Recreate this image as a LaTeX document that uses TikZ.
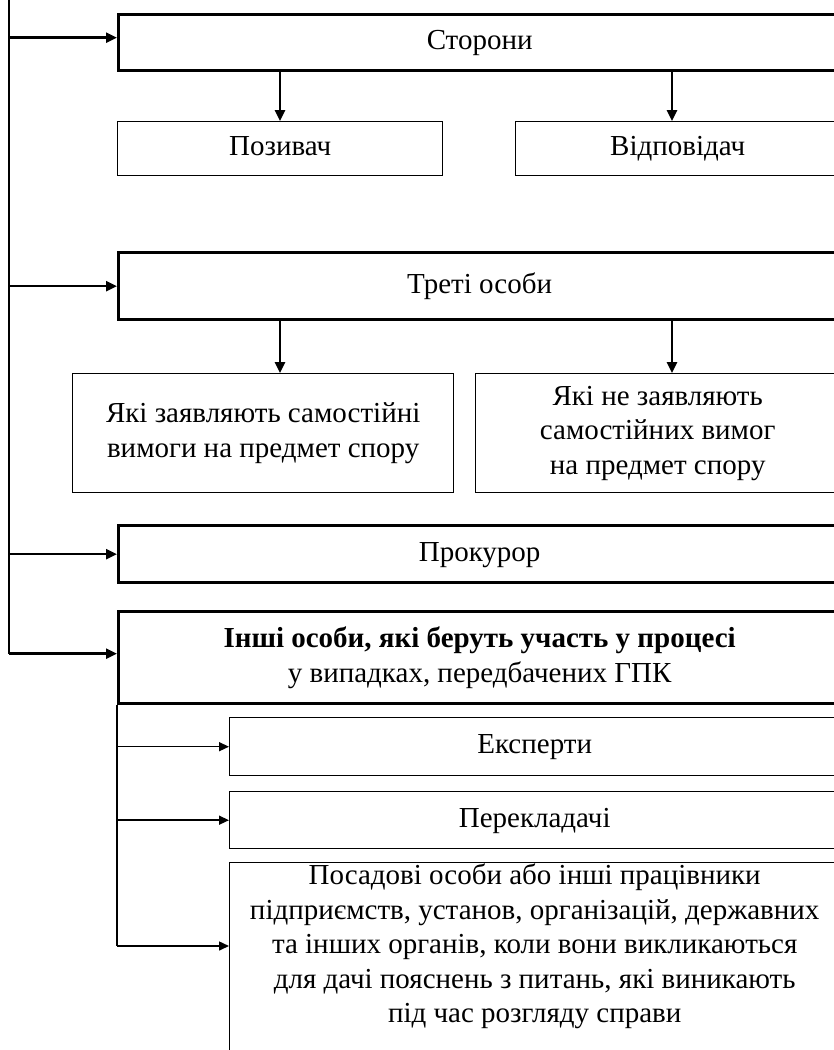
\documentclass[tikz,border=0pt]{standalone}
\usepackage{fontspec}
\setmainfont{Liberation Serif}
\usetikzlibrary{arrows.meta,positioning}

\begin{document}
\begin{tikzpicture}[
    x=1pt, y=-1pt,
    every node/.style={font=\fontsize{29}{34.5}\selectfont},
    mainbox/.style={draw=black, line width=3.3pt, anchor=north west, align=center, inner sep=0pt},
    subbox/.style={draw=black, line width=1.4pt, anchor=north west, align=center, inner sep=0pt},
    oneline/.style={text height=21pt, text depth=7pt},
    bus/.style={line width=2.5pt, black},
    arrow/.style={-{Triangle[length=11pt, width=10pt]}, line width=2.5pt, black},
    subarrow/.style={-{Triangle[length=10pt, width=9pt]}, line width=1.5pt, black},
    subline/.style={line width=1.3pt, black}
]
\useasboundingbox (0,0) rectangle (834,1050);
\clip (0,0) rectangle (834,1050);

% === Level 1: main participants ===
\node[mainbox, oneline, minimum width=722pt, minimum height=56pt] (storony) at (117,13) {Сторони};
\node[mainbox, oneline, minimum width=722pt, minimum height=67pt] (treti) at (117,251) {Треті особи};
\node[mainbox, oneline, minimum width=722pt, minimum height=57pt] (prokuror) at (117,524) {Прокурор};
\node[mainbox, minimum width=722pt, minimum height=92pt] (inshi) at (117,610)
    {\textbf{Інші особи, які беруть участь у процесі}\\у випадках, передбачених ГПК};

% === Level 2: parties ===
\node[subbox, oneline, minimum width=325pt, minimum height=54pt] (pozyvach) at (117,121) {Позивач};
\node[subbox, oneline, minimum width=324pt, minimum height=54pt] (vidpovidach) at (515,121) {Відповідач};

% === Level 2: third persons ===
\node[subbox, minimum width=381pt, minimum height=119pt] (zayavl) at (72,373)
    {Які заявляють самостійні\\вимоги на предмет спору};
\node[subbox, minimum width=364pt, minimum height=119pt] (nezayavl) at (475,373)
    {Які не заявляють\\самостійних вимог\\на предмет спору};

% === Level 2: other persons ===
\node[subbox, oneline, minimum width=610pt, minimum height=58pt] (eksperty) at (229,717) {Експерти};
\node[subbox, oneline, minimum width=610pt, minimum height=57pt] (perekl) at (229,791) {Перекладачі};
\node[subbox, minimum width=610pt, minimum height=220pt] (posad) at (229,862) {};
\node[anchor=north, align=center, inner sep=0pt] (posadtxt) at ([yshift=-2pt]posad.north)
    {Посадові особи або інші працівники\\підприємств, установ, організацій, державних\\та інших органів, коли вони викликаються\\для дачі пояснень з питань, які виникають\\під час розгляду справи};

% Split points
\coordinate (bus) at (9,-5);
\coordinate (lsplit) at (280,0);
\coordinate (rsplit) at (672,0);
\coordinate (storin) at ([yshift=5pt]storony.west);
\coordinate (inshiin) at ([yshift=4pt]inshi.west);
\coordinate (posadin) at (229,946);

% Left bus
\draw[bus] (bus) -- (bus |- inshiin);
\draw[arrow] (bus |- storin) -- (storin);
\draw[arrow] (bus |- treti.west) -- (treti.west);
\draw[arrow] (bus |- prokuror.west) -- (prokuror.west);
\draw[arrow] (bus |- inshiin) -- (inshiin);

% Down arrows
\draw[arrow] (lsplit |- storony.south) -- (lsplit |- pozyvach.north);
\draw[arrow] (rsplit |- storony.south) -- (rsplit |- vidpovidach.north);
\draw[arrow] (lsplit |- treti.south) -- (lsplit |- zayavl.north);
\draw[arrow] (rsplit |- treti.south) -- (rsplit |- nezayavl.north);

% Sub bus
\draw[subline] (inshi.south west) -- (inshi.south west |- posadin);
\draw[subarrow] (inshi.south west |- eksperty.west) -- (eksperty.west);
\draw[subarrow] (inshi.south west |- perekl.west) -- (perekl.west);
\draw[subarrow] (inshi.south west |- posadin) -- (posadin);

\end{tikzpicture}
\end{document}
